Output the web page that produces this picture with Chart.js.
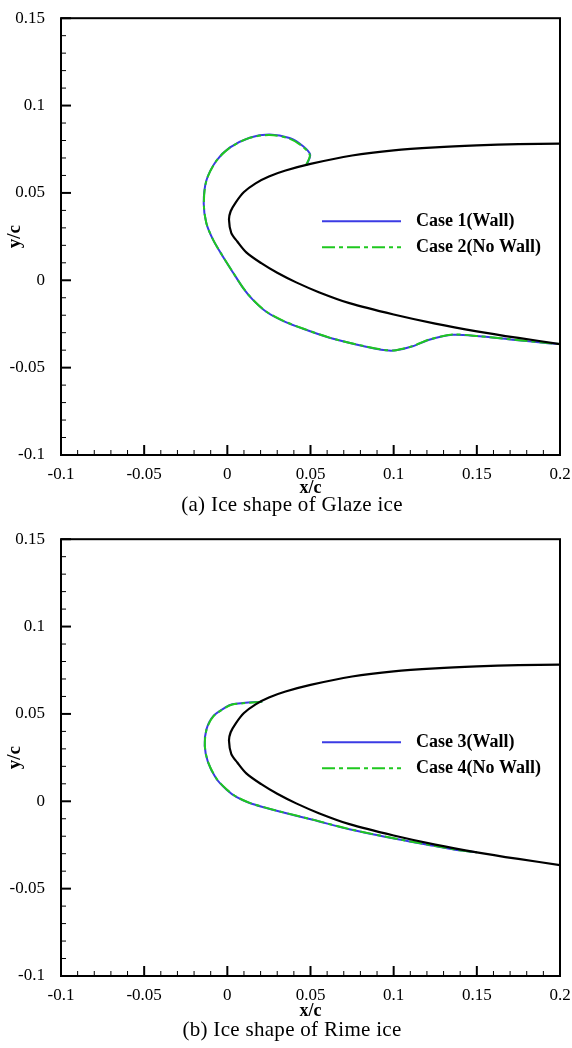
<!DOCTYPE html>
<html>
<head>
<meta charset="utf-8">
<title>Ice shapes</title>
<script src="https://cdn.jsdelivr.net/npm/chart.js@4.4.1/dist/chart.umd.min.js"></script>
<style>
  html, body { margin: 0; padding: 0; background: #fff; }
  #page { position: relative; width: 572px; height: 1048px; overflow: hidden; background: #fff; }
  .panel { position: absolute; left: 0; width: 572px; }
  .caption { position: absolute; left: 0; width: 584px; text-align: center; line-height: 24px;
             font-size: 21px; letter-spacing: 0.3px;
             font-family: 'Liberation Serif', 'Times New Roman', serif; color: #000; }
</style>
</head>
<body>
<div id="page">
  <div class="panel" style="top:0"><canvas id="glazeChart" width="572" height="499"></canvas></div>
  <div class="caption" style="top:492px">(a) Ice shape of Glaze ice</div>
  <div class="panel" style="top:521px"><canvas id="rimeChart" width="572" height="501"></canvas></div>
  <div class="caption" style="top:1017px">(b) Ice shape of Rime ice</div>
</div>
<script>
// axis ticks
const xTicks = [-0.1, -0.05, 0, 0.05, 0.1, 0.15, 0.2];
const xTickLabels = ['-0.1', '-0.05', '0', '0.05', '0.1', '0.15', '0.2'];
const yTicks = [-0.1, -0.05, 0, 0.05, 0.1, 0.15];
const yTickLabels = ['-0.1', '-0.05', '0', '0.05', '0.1', '0.15'];
const minorStep = 0.01;

// clean airfoil contour: upper surface from x/c=0.2 to the nose, then lower surface back
const airfoil = [
  [0.2, 0.0782], [0.175, 0.0779], [0.15, 0.0772], [0.125, 0.0761], [0.1, 0.0744],
  [0.075, 0.0714], [0.05, 0.0666], [0.035, 0.0628], [0.025, 0.0594], [0.017, 0.0555],
  [0.010, 0.0505], [0.005, 0.0445], [0.002, 0.0395], [0.001, 0.0346], [0.0024, 0.0270],
  [0.0060, 0.0222], [0.0114, 0.0160], [0.0204, 0.0098], [0.0300, 0.0043], [0.0414, -0.0012],
  [0.0550, -0.0068], [0.0734, -0.0131], [0.1, -0.0196], [0.125, -0.0248], [0.15, -0.0292],
  [0.175, -0.0330], [0.2, -0.0365]
];

// glaze ice
const glazeWall = [
  [0.0474, 0.0656], [0.0498, 0.0718], [0.0454, 0.0768], [0.0374, 0.0814], [0.0254, 0.0834],
  [0.0134, 0.0816], [0.0014, 0.0759], [-0.0066, 0.0684], [-0.0126, 0.0571], [-0.0142, 0.0440],
  [-0.0126, 0.0327], [-0.0086, 0.0233], [-0.0026, 0.0135], [0.0034, 0.0045], [0.0094, -0.0043],
  [0.0154, -0.0112], [0.0234, -0.0180], [0.0334, -0.0232], [0.0454, -0.0277], [0.0614, -0.0329],
  [0.0814, -0.0376], [0.0954, -0.0401], [0.1014, -0.0401], [0.1114, -0.0378], [0.1214, -0.0340],
  [0.1354, -0.0312], [0.1514, -0.0321], [0.1714, -0.0340], [0.1914, -0.0359], [0.2, -0.0365]
];
const glazeNoWall = [
  [0.0472, 0.0657], [0.0496, 0.0716], [0.0452, 0.0766], [0.0372, 0.0811], [0.0254, 0.0831],
  [0.0134, 0.0815], [0.0014, 0.0758], [-0.0066, 0.0683], [-0.0126, 0.0570], [-0.0141, 0.0440],
  [-0.0126, 0.0327], [-0.0086, 0.0233], [-0.0026, 0.0135], [0.0034, 0.0045], [0.0094, -0.0042],
  [0.0154, -0.0111], [0.0234, -0.0179], [0.0334, -0.0231], [0.0454, -0.0276], [0.0614, -0.0328],
  [0.0814, -0.0375], [0.0954, -0.0400], [0.1014, -0.0400], [0.1114, -0.0377], [0.1214, -0.0339],
  [0.1354, -0.0311], [0.1514, -0.0320], [0.1714, -0.0339], [0.1914, -0.0358], [0.2, -0.0365]
];

// rime ice
const rimeWall = [
  [0.021, 0.0570], [0.0094, 0.0562], [0.003, 0.0555], [-0.0006, 0.0540], [-0.0086, 0.0486],
  [-0.0126, 0.0410], [-0.0136, 0.0317], [-0.0116, 0.0223], [-0.0066, 0.0129], [-0.0006, 0.0068],
  [0.0054, 0.0025], [0.0134, -0.0010], [0.0224, -0.0036], [0.0314, -0.0059], [0.0514, -0.0106],
  [0.0734, -0.0160], [0.1034, -0.0219], [0.1254, -0.0257], [0.1394, -0.0281], [0.15, -0.0292]
];
const rimeNoWall = [
  [0.021, 0.0570], [0.0094, 0.0561], [0.003, 0.0554], [-0.0006, 0.0539], [-0.0085, 0.0485],
  [-0.0125, 0.0410], [-0.0135, 0.0317], [-0.0115, 0.0223], [-0.0065, 0.0130], [-0.0005, 0.0069],
  [0.0055, 0.0026], [0.0134, -0.0009], [0.0224, -0.0035], [0.0314, -0.0058], [0.0514, -0.0105],
  [0.0734, -0.0159], [0.1034, -0.0218], [0.1254, -0.0256], [0.1394, -0.0281], [0.15, -0.0292]
];

const serif = "'Liberation Serif', 'Times New Roman', serif";
const blue = '#3b3be4';
const green = '#1fc81f';

const toPoints = arr => arr.map(p => ({ x: p[0], y: p[1] }));

// inward major/minor ticks on the left and bottom axes plus the closed frame
const frameTicks = {
  id: 'frameTicks',
  afterDraw(chart) {
    const { ctx, chartArea: a, scales: { x, y } } = chart;
    ctx.save();
    ctx.strokeStyle = '#000';
    const nx = Math.round((x.max - x.min) / minorStep);
    for (let k = 0; k <= nx; k++) {
      const v = x.min + k * minorStep;
      const major = xTicks.some(t => Math.abs(t - v) < 1e-9);
      const px = x.getPixelForValue(v);
      ctx.lineWidth = major ? 2 : 1;
      ctx.beginPath();
      ctx.moveTo(px, a.bottom);
      ctx.lineTo(px, a.bottom - (major ? 10 : 5));
      ctx.stroke();
    }
    const ny = Math.round((y.max - y.min) / minorStep);
    for (let k = 0; k <= ny; k++) {
      const v = y.min + k * minorStep;
      const major = yTicks.some(t => Math.abs(t - v) < 1e-9);
      const py = y.getPixelForValue(v);
      ctx.lineWidth = major ? 2 : 1;
      ctx.beginPath();
      ctx.moveTo(a.left, py);
      ctx.lineTo(a.left + (major ? 10 : 5), py);
      ctx.stroke();
    }
    ctx.lineWidth = 2;
    ctx.strokeRect(a.left, a.top, a.right - a.left, a.bottom - a.top);
    ctx.restore();
  }
};

// legend box inside the plot, built from the ice datasets
const caseLegend = {
  id: 'caseLegend',
  afterDraw(chart) {
    const { ctx, chartArea: a } = chart;
    const rows = chart.data.datasets.filter(d => d.label !== 'Airfoil');
    ctx.save();
    rows.forEach((d, i) => {
      const yy = a.top + 203 + i * 26;
      ctx.strokeStyle = d.borderColor;
      ctx.lineWidth = d.borderWidth;
      ctx.setLineDash(d.borderDash || []);
      ctx.beginPath();
      ctx.moveTo(a.left + 261, yy);
      ctx.lineTo(a.left + 340, yy);
      ctx.stroke();
      ctx.setLineDash([]);
      ctx.fillStyle = '#000';
      ctx.font = 'bold 18px ' + serif;
      ctx.textBaseline = 'middle';
      ctx.textAlign = 'left';
      ctx.fillText(d.label, a.left + 355, yy);
    });
    ctx.restore();
  }
};

function makeChart(id, wall, noWall, wallLabel, noWallLabel, xAxisHeight) {
  return new Chart(document.getElementById(id), {
    type: 'scatter',
    data: {
      datasets: [
        { label: 'Airfoil', data: toPoints(airfoil), showLine: true, borderColor: '#000',
          borderWidth: 2.2, order: 0 },
        { label: wallLabel, data: toPoints(wall), showLine: true, borderColor: blue,
          borderWidth: 2, order: 2 },
        { label: noWallLabel, data: toPoints(noWall), showLine: true, borderColor: green,
          borderWidth: 2, borderDash: [13, 4, 4, 4], order: 1 }
      ]
    },
    options: {
      responsive: false,
      animation: false,
      layout: { autoPadding: false, padding: { left: 0, top: 12, right: 12, bottom: 0 } },
      elements: { point: { radius: 0, hoverRadius: 0 }, line: { tension: 0.3 } },
      plugins: { legend: { display: false }, tooltip: { enabled: false } },
      scales: {
        x: {
          type: 'linear', min: -0.1, max: 0.2,
          afterBuildTicks: s => { s.ticks = xTicks.map(v => ({ value: v })); },
          afterFit: s => { s.height = xAxisHeight; },
          grid: { display: false },
          border: { display: false },
          ticks: { padding: 1, color: '#000', maxRotation: 0, autoSkip: false,
                   font: { family: serif, size: 17 },
                   callback: (v, i) => xTickLabels[i] },
          title: { display: true, text: 'x/c', color: '#000',
                   font: { family: serif, size: 18, weight: 'bold' },
                   padding: { top: 0, bottom: 0 } }
        },
        y: {
          type: 'linear', min: -0.1, max: 0.15,
          afterBuildTicks: s => { s.ticks = yTicks.map(v => ({ value: v })); },
          afterFit: s => { s.width = 61; },
          grid: { display: false },
          border: { display: false },
          ticks: { padding: 8, color: '#000', autoSkip: false,
                   font: { family: serif, size: 17 },
                   callback: (v, i) => yTickLabels[i] },
          title: { display: true, text: 'y/c', color: '#000',
                   font: { family: serif, size: 19, weight: 'bold' },
                   padding: { top: 4, bottom: 0 } }
        }
      }
    },
    plugins: [frameTicks, caseLegend]
  });
}

makeChart('glazeChart', glazeWall, glazeNoWall, 'Case 1(Wall)', 'Case 2(No Wall)', 44);
makeChart('rimeChart', rimeWall, rimeNoWall, 'Case 3(Wall)', 'Case 4(No Wall)', 46);
</script>
</body>
</html>
